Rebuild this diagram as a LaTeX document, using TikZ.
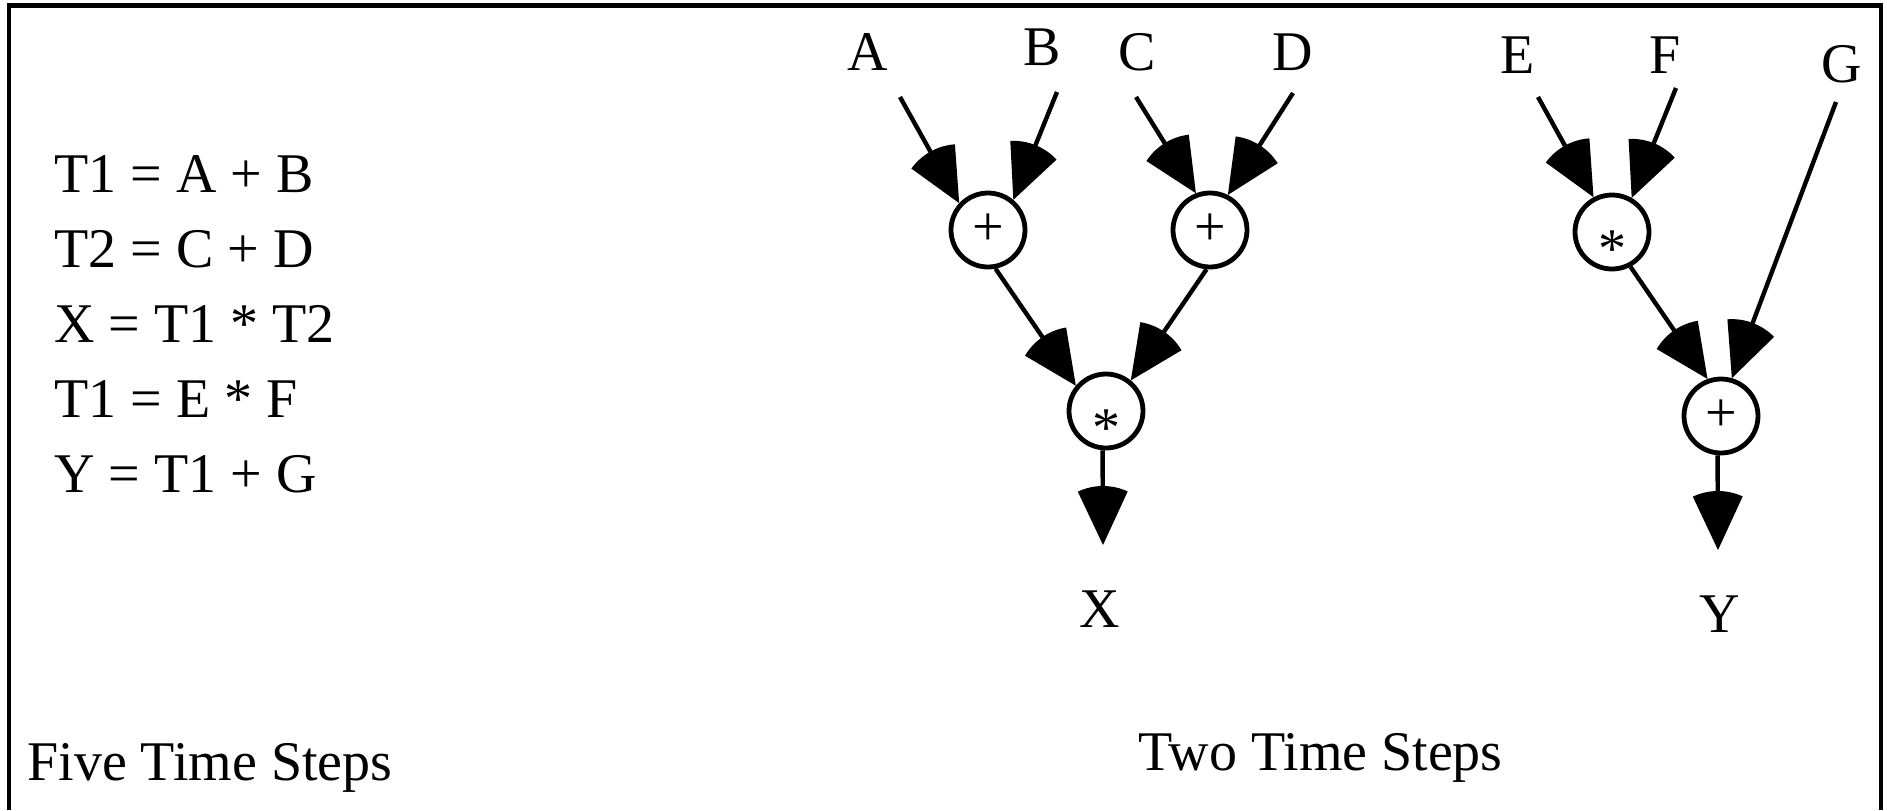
\documentclass[tikz,border=0pt]{standalone}
\usepackage{fontspec}
\setmainfont{Liberation Serif}
\usetikzlibrary{arrows.meta,calc}
\pgfdeclarearrow{
  name = Fan,
  parameters = {\the\pgfarrowlength},
  setup code = {
    \pgfarrowssettipend{0pt}
    \pgfarrowssetlineend{-.5\pgfarrowlength}
    \pgfarrowssetbackend{-\pgfarrowlength}
    \pgfarrowssetvisualbackend{-\pgfarrowlength}
    \pgfarrowssavethe\pgfarrowlength
  },
  drawing code = {
    \pgfpathmoveto{\pgfpointorigin}
    \pgfpathlineto{\pgfpointpolar{155}{\pgfarrowlength}}
    \pgfpatharc{155}{205}{\pgfarrowlength}
    \pgfpathclose
    \pgfusepathqfill
  },
  defaults = {length = 29.5pt}
}
\tikzset{
  op/.style={circle, draw, line width=2.4pt, minimum size=37pt, inner sep=0pt},
  opstar/.style={op, text height=0pt, text depth=0pt},
  lbl/.style={anchor=base, inner sep=0pt},
  eqn/.style={anchor=base west, inner sep=0pt},
  arr/.style={line width=2.2pt, -{Fan}},
}
\begin{document}
\begin{tikzpicture}[x=0.5pt, y=-0.5pt, font=\fontsize{28pt}{34pt}\selectfont]
\useasboundingbox (0,0) rectangle (1887,810);
\draw[line width=2.2pt, line join=miter] (9,810) -- (9,5.5) -- (1881,5.5) -- (1881,810);

% equations
\node[eqn] (e1) at (54,192) {T1 = A + B};
\node[eqn] (e2) at (54,267) {T2 = C + D};
\node[eqn] (e3) at (54,342) {X = T1 * T2};
\node[eqn] (e4) at (54,417) {T1 = E * F};
\node[eqn] (e5) at (54,492) {Y = T1 + G};
\node[eqn] (five) at (27,780) {Five Time Steps};
\node[eqn] (two) at (1138,770) {Two Time Steps};

% input / output labels
\node[lbl] (A) at (868,70) {A};
\node[lbl] (B) at (1042,65) {B};
\node[lbl] (C) at (1137,70) {C};
\node[lbl] (D) at (1293,70) {D};
\node[lbl] (E) at (1518,73) {E};
\node[lbl] (F) at (1665,73) {F};
\node[lbl] (G) at (1842,82) {G};
\node[lbl] (X) at (1100,627) {X};
\node[lbl] (Y) at (1720,632) {Y};

% operators
\node[op] (p1) at (988,230) {+};
\node[op] (p2) at (1210,230) {+};
\node[opstar] (m1) at (1106,411) {\raisebox{-17.5pt}{*}};
\node[opstar] (m2) at (1612,232) {\raisebox{-17.5pt}{*}};
\node[op] (p3) at (1721,416) {+};

% connectors
\draw[arr] ($(A.base)+(32,27)$) -- (p1.137);
\draw[arr] ($(B.base)+(15,27)$) -- (p1.50);
\draw[arr] ($(C.base)+(-1,27)$) -- (p2.111);
\draw[arr] ($(D.base)+(0,23)$) -- (p2.63);
\draw[arr] ($(E.base)+(20,24)$) -- (m2.118);
\draw[arr] ($(F.base)+(11,15)$) -- (m2.60);
\draw[arr] ($(G.base)+(-6,20)$) -- (p3.74);
\draw[arr] (p1.-79) -- (m1.140);
\draw[arr] (p2.-95) -- (m1.51);
\draw[arr] (m2.-62) -- (p3.110);
\draw[arr] (m1.-95) -- ($(X.base)+(3,-82)$);
\draw[arr] (p3.-95) -- ($(Y.base)+(-2,-82)$);
\end{tikzpicture}
\end{document}
